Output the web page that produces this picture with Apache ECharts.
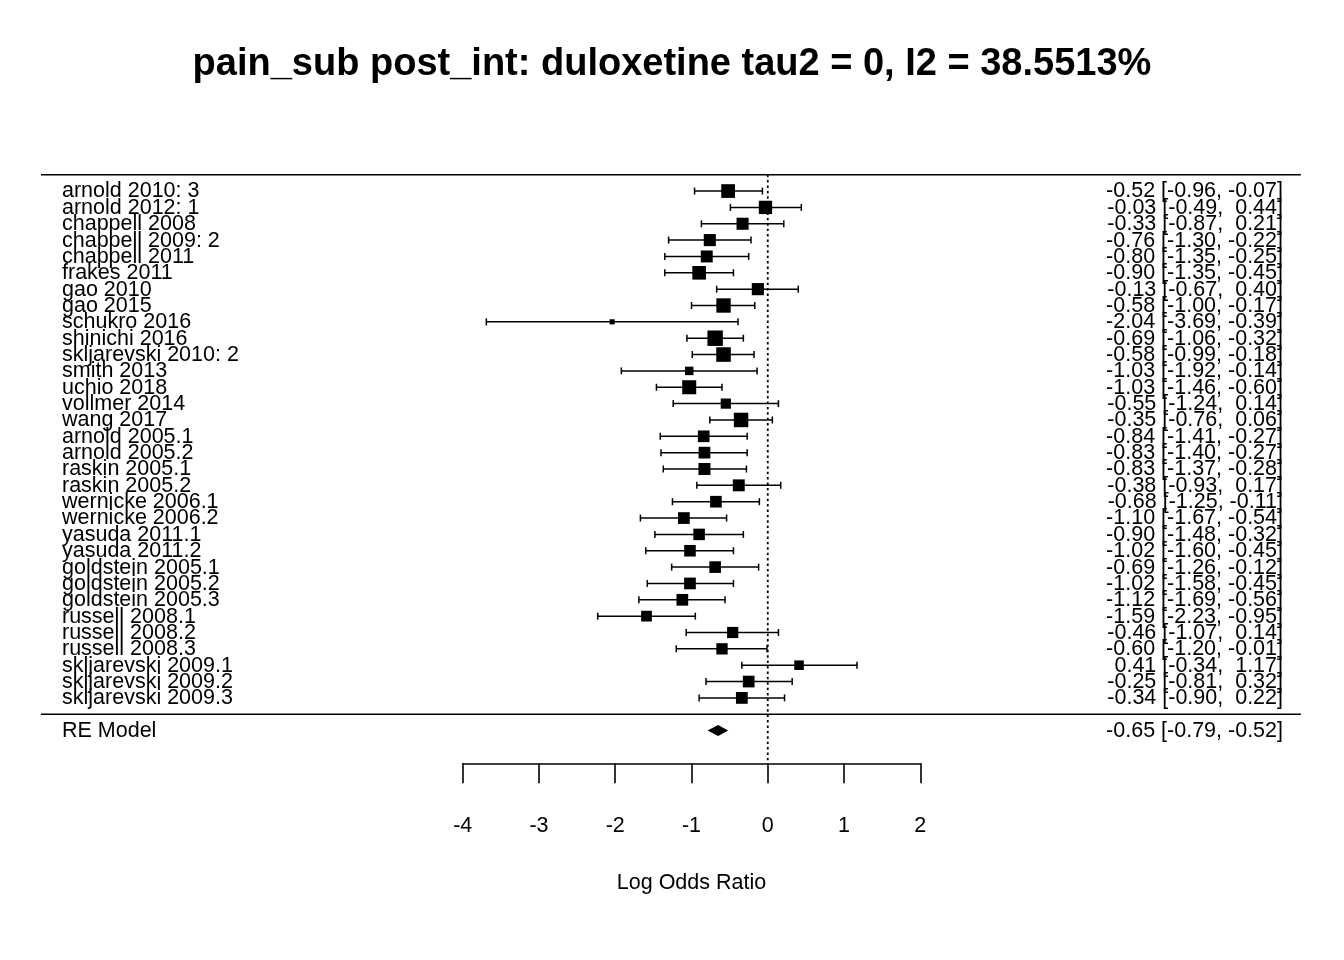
<!DOCTYPE html>
<html><head><meta charset="utf-8">
<script src="https://cdn.jsdelivr.net/npm/echarts@6/dist/echarts.min.js"></script>
<style>html,body{margin:0;padding:0;background:#fff}#c{width:1344px;height:960px}</style>
</head><body><div id="c"></div>
<script>
const titleText = 'pain_sub post_int: duloxetine tau2 = 0, I2 = 38.5513%';
const axisTitle = 'Log Odds Ratio';
const studies = ['arnold 2010: 3','arnold 2012: 1','chappell 2008','chappell 2009: 2','chappell 2011','frakes 2011','gao 2010','gao 2015','schukro 2016','shinichi 2016','skljarevski 2010: 2','smith 2013','uchio 2018','vollmer 2014','wang 2017','arnold 2005.1','arnold 2005.2','raskin 2005.1','raskin 2005.2','wernicke 2006.1','wernicke 2006.2','yasuda 2011.1','yasuda 2011.2','goldstein 2005.1','goldstein 2005.2','goldstein 2005.3','russell 2008.1','russell 2008.2','russell 2008.3','skljarevski 2009.1','skljarevski 2009.2','skljarevski 2009.3'];
const estimates = [-0.52,-0.03,-0.33,-0.76,-0.80,-0.90,-0.13,-0.58,-2.04,-0.69,-0.58,-1.03,-1.03,-0.55,-0.35,-0.84,-0.83,-0.83,-0.38,-0.68,-1.10,-0.90,-1.02,-0.69,-1.02,-1.12,-1.59,-0.46,-0.60,0.41,-0.25,-0.34];
const lower = [-0.96,-0.49,-0.87,-1.30,-1.35,-1.35,-0.67,-1.00,-3.69,-1.06,-0.99,-1.92,-1.46,-1.24,-0.76,-1.41,-1.40,-1.37,-0.93,-1.25,-1.67,-1.48,-1.60,-1.26,-1.58,-1.69,-2.23,-1.07,-1.20,-0.34,-0.81,-0.90];
const upper = [-0.07,0.44,0.21,-0.22,-0.25,-0.45,0.40,-0.17,-0.39,-0.32,-0.18,-0.14,-0.60,0.14,0.06,-0.27,-0.27,-0.28,0.17,-0.11,-0.54,-0.32,-0.45,-0.12,-0.45,-0.56,-0.95,0.14,-0.01,1.17,0.32,0.22];
const summaryLabel = 'RE Model';
const summaryEst = -0.65, summaryLower = -0.79, summaryUpper = -0.52;
const xTicks = [-4,-3,-2,-1,0,1,2];

// layout
const FONT = '"Liberation Sans", Arial, Helvetica, sans-serif';
const FS = 21.5;
const k = studies.length;
const rows = studies.map((s, i) => k - i);
const xlim = [-9.53, 6.99];
const leftTextX = 62, rightTextX = 1283;

// square sizes from inverse standard errors
const inv = lower.map((lo, i) => Math.sqrt(3.92 / (upper[i] - lo)));
const wmin = Math.min(...inv), wmax = Math.max(...inv);
const sizes = inv.map(w => ((w - wmin) / (wmax - wmin) + 0.5) * 10.3);

function fmt(v) { return (v < 0 ? '' : ' ') + v.toFixed(2); }
function annot(e, lo, hi) { return fmt(e) + ' [' + fmt(lo) + ', ' + fmt(hi) + ']'; }

function txt(x, y, text, align) {
  return { type: 'text', silent: true, style: { x: x, y: y + 0.5, text: text, fill: '#000', font: FS + 'px ' + FONT, align: align, verticalAlign: 'middle' } };
}

const chart = echarts.init(document.getElementById('c'), null, { renderer: 'canvas' });
chart.setOption({
  backgroundColor: '#fff',
  animation: false,
  title: {
    text: titleText, left: 'center', top: 41,
    textStyle: { fontFamily: FONT, fontSize: 38, fontWeight: 'bold', color: '#000' }
  },
  grid: { left: 462.7, width: 457.6, top: 174.7, height: 588.6 },
  xAxis: {
    type: 'value', min: xTicks[0], max: xTicks[xTicks.length - 1], interval: 1,
    splitLine: { show: false },
    axisLine: { show: true, onZero: false, lineStyle: { color: '#000', width: 1.6 } },
    axisTick: { show: true, inside: false, length: 20, lineStyle: { color: '#000', width: 1.6 } },
    axisLabel: { color: '#000', fontSize: FS, fontFamily: FONT, margin: 52 },
    name: axisTitle, nameLocation: 'middle', nameGap: 109,
    nameTextStyle: { color: '#000', fontSize: FS, fontFamily: FONT }
  },
  yAxis: { type: 'value', min: -3, max: k + 1, show: false },
  series: [
    {
      type: 'custom', clip: false, silent: true,
      data: [[0]],
      renderItem: function (params, api) {
        const a = api.coord([xlim[0], k + 1]), b = api.coord([xlim[1], k + 1]);
        const c = api.coord([xlim[0], 0]), d = api.coord([xlim[1], 0]);
        const z1 = api.coord([0, k + 1]), z2 = api.coord([0, -3]);
        return { type: 'group', children: [
          { type: 'line', shape: { x1: a[0], y1: a[1], x2: b[0], y2: b[1] }, style: { stroke: '#000', lineWidth: 1.6 } },
          { type: 'line', shape: { x1: c[0], y1: c[1], x2: d[0], y2: d[1] }, style: { stroke: '#000', lineWidth: 1.6 } },
          { type: 'line', shape: { x1: z1[0], y1: z1[1], x2: z2[0], y2: z2[1] }, style: { stroke: '#000', lineWidth: 1.8, lineDash: [2.4, 3] } }
        ]};
      }
    },
    {
      type: 'custom', clip: false, silent: true,
      encode: { x: [0, 1, 2], y: 3 },
      data: studies.map((s, i) => [estimates[i], lower[i], upper[i], rows[i]]),
      renderItem: function (params, api) {
        const i = params.dataIndex;
        const e = api.value(0), lo = api.value(1), hi = api.value(2), r = api.value(3);
        const pe = api.coord([e, r]), pl = api.coord([lo, r]), ph = api.coord([hi, r]);
        const s = sizes[i], cap = 3.5;
        const st = { stroke: '#000', lineWidth: 1.5 };
        return { type: 'group', children: [
          { type: 'line', shape: { x1: pl[0], y1: pl[1], x2: ph[0], y2: ph[1] }, style: st },
          { type: 'line', shape: { x1: pl[0], y1: pl[1] - cap, x2: pl[0], y2: pl[1] + cap }, style: st },
          { type: 'line', shape: { x1: ph[0], y1: ph[1] - cap, x2: ph[0], y2: ph[1] + cap }, style: st },
          { type: 'rect', shape: { x: pe[0] - s / 2, y: pe[1] - s / 2, width: s, height: s }, style: { fill: '#000' } },
          txt(leftTextX, pe[1], studies[i], 'left'),
          txt(rightTextX, pe[1], annot(e, lo, hi), 'right')
        ]};
      }
    },
    {
      type: 'custom', clip: false, silent: true,
      encode: { x: [0, 1, 2], y: 3 },
      data: [[summaryEst, summaryLower, summaryUpper, -1]],
      renderItem: function (params, api) {
        const e = api.value(0), lo = api.value(1), hi = api.value(2), r = api.value(3);
        const pe = api.coord([e, r]), pl = api.coord([lo, r]), ph = api.coord([hi, r]);
        const h = 5.5;
        return { type: 'group', children: [
          { type: 'polygon', shape: { points: [[pl[0], pl[1]], [pe[0], pe[1] - h], [ph[0], ph[1]], [pe[0], pe[1] + h]] }, style: { fill: '#000' } },
          txt(leftTextX, pe[1], summaryLabel, 'left'),
          txt(rightTextX, pe[1], annot(e, lo, hi), 'right')
        ]};
      }
    }
  ]
});
</script></body></html>
